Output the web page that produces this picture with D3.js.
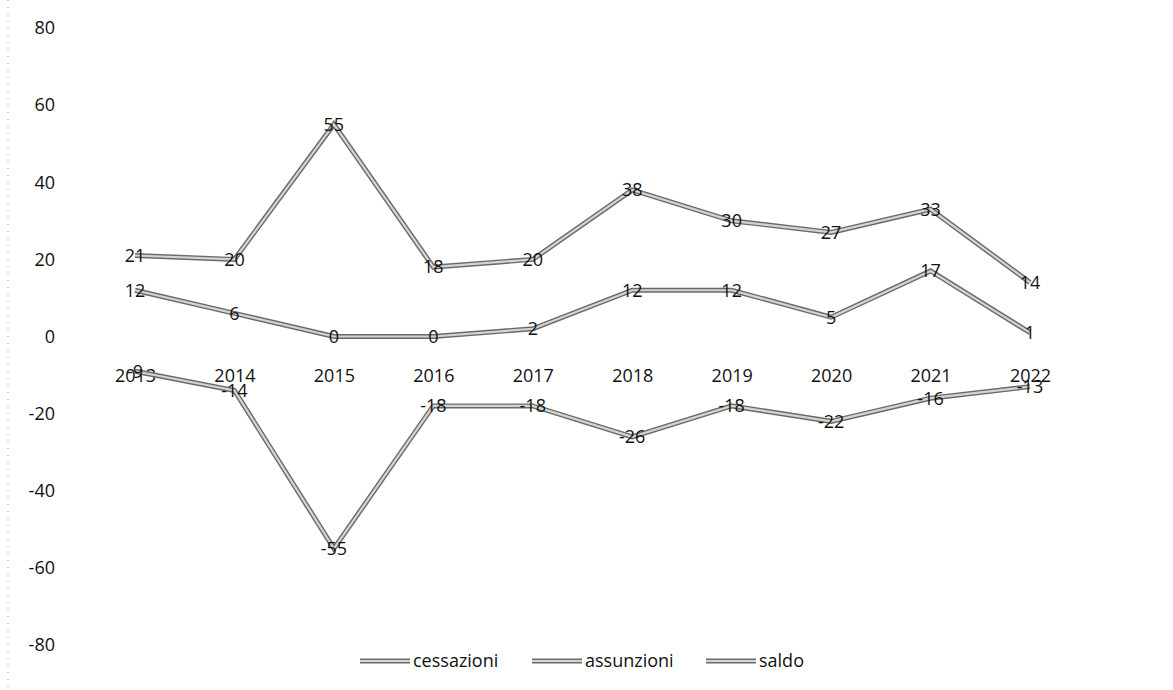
<!DOCTYPE html>
<meta charset="utf-8">
<html>
<head>
  <title>cessazioni / assunzioni / saldo</title>
  <style type="text/css">
    body{margin:0; background:#fff;}
    text{font-family:"Open Sans", sans-serif; fill:#111;}
  </style>
</head>
<body>
  <script src="https://cdnjs.cloudflare.com/ajax/libs/d3/7.8.5/d3.min.js"></script>
  <script>
    var years = ['2013','2014','2015','2016','2017','2018','2019','2020','2021','2022'];
    var cessazioni = [21, 20, 55, 18, 20, 38, 30, 27, 33, 14];
    var assunzioni = [12, 6, 0, 0, 2, 12, 12, 5, 17, 1];
    var saldo = [-9, -14, -55, -18, -18, -26, -18, -22, -16, -13];
    var yTicks = [80, 60, 40, 20, 0, -20, -40, -60, -80];

    var series = [
      {name: 'cessazioni', values: cessazioni},
      {name: 'assunzioni', values: assunzioni},
      {name: 'saldo', values: saldo}
    ];

    var width = 1173,
        height = 690;

    // plain hyphen for negatives, like the original
    var fmt = function(d){ return String(d); };

    var svg = d3.select('body')
      .append('svg')
      .attr('width', width)
      .attr('height', height);

    var x = d3.scalePoint()
      .domain(years)
      .range([135, 1030]);

    var y = d3.scaleLinear()
      .domain([-80, 80])
      .range([645, 28]);

    // faint dotted left border of the scan
    svg.append('line')
      .attr('x1', 8).attr('x2', 8)
      .attr('y1', 0).attr('y2', height)
      .attr('stroke', '#999')
      .attr('stroke-width', 1)
      .attr('stroke-dasharray', '1,6');

    // y axis labels only
    var yAxis = d3.axisLeft(y).tickValues(yTicks).tickFormat(fmt).tickSize(0).tickPadding(0);
    svg.append('g')
      .attr('transform', 'translate(55,0)')
      .call(yAxis)
      .call(function(g){ g.select('.domain').remove(); })
      .selectAll('text')
      .style('font-size', '18px')
      .style('font-family', '"Open Sans", sans-serif')
      .attr('fill', '#111');

    // category labels sit below the zero line
    var xAxis = d3.axisBottom(x).tickSize(0).tickPadding(0);
    svg.append('g')
      .attr('transform', 'translate(0,' + (y(0) + 33) + ')')
      .call(xAxis)
      .call(function(g){ g.select('.domain').remove(); })
      .selectAll('text')
      .style('font-size', '18px')
      .style('font-family', '"Open Sans", sans-serif')
      .attr('fill', '#111');

    var line = d3.line()
      .x(function(d, i){ return x(years[i]); })
      .y(function(d){ return y(d); });

    // double-stroke look: dark outline then lighter core
    var g = svg.selectAll('.series')
      .data(series)
      .enter()
      .append('g')
      .attr('class', 'series');

    g.append('path')
      .attr('d', function(s){ return line(s.values); })
      .attr('fill', 'none')
      .attr('stroke', '#6a6a6a')
      .attr('stroke-width', 5);

    g.append('path')
      .attr('d', function(s){ return line(s.values); })
      .attr('fill', 'none')
      .attr('stroke', '#d4d4d4')
      .attr('stroke-width', 2.2);

    g.selectAll('.lbl')
      .data(function(s){ return s.values; })
      .enter()
      .append('text')
      .attr('class', 'lbl')
      .attr('x', function(d, i){ return x(years[i]); })
      .attr('y', function(d){ return y(d); })
      .attr('dy', '0.35em')
      .attr('text-anchor', 'middle')
      .style('font-size', '18px')
      .text(fmt);

    // legend
    var legendX = [360, 532, 706];
    var lg = svg.selectAll('.legend')
      .data(series)
      .enter()
      .append('g')
      .attr('class', 'legend')
      .attr('transform', function(d, i){ return 'translate(' + legendX[i] + ',661)'; });

    lg.append('line')
      .attr('x1', 0).attr('x2', 50)
      .attr('stroke', '#6a6a6a')
      .attr('stroke-width', 5);
    lg.append('line')
      .attr('x1', 0).attr('x2', 50)
      .attr('stroke', '#d4d4d4')
      .attr('stroke-width', 2.2);
    lg.append('text')
      .attr('x', 53)
      .attr('dy', '0.35em')
      .style('font-size', '18px')
      .text(function(d){ return d.name; });
  </script>
</body>
</html>
